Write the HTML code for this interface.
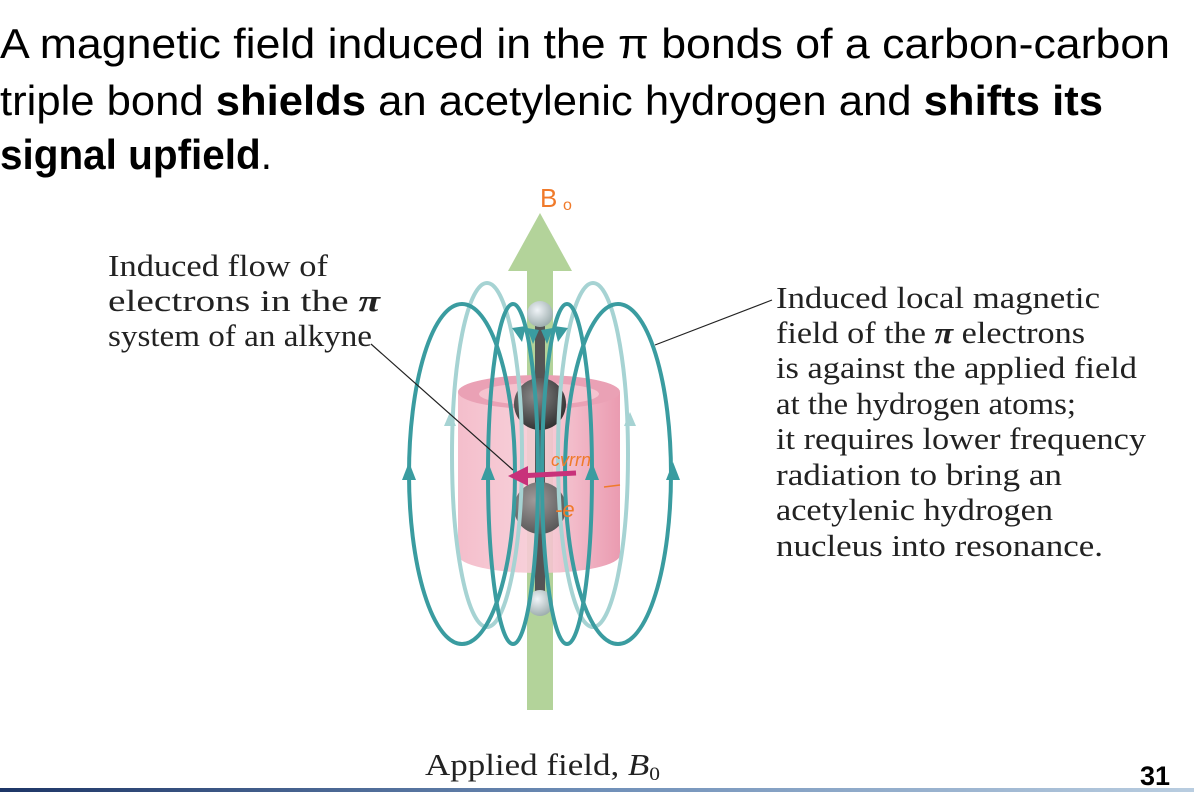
<!DOCTYPE html>
<html><head><meta charset="utf-8"><style>
html,body{margin:0;padding:0;background:#fff;width:1194px;height:792px;overflow:hidden}
svg{display:block}
.t{font-family:"Liberation Sans",sans-serif;font-size:42px;fill:#000}
.s{font-family:"Liberation Serif",serif;font-size:31px;fill:#222}
</style></head><body>
<svg width="1194" height="792" viewBox="0 0 1194 792">
<defs>
<linearGradient id="bar" x1="0" x2="1"><stop offset="0" stop-color="#1d3566"/><stop offset="0.5" stop-color="#6f8fb8"/><stop offset="1" stop-color="#b9cde0"/></linearGradient>
<linearGradient id="cyl" x1="0" x2="1"><stop offset="0" stop-color="#f3b7c6"/><stop offset="0.5" stop-color="#f7cdd7"/><stop offset="1" stop-color="#e890a8"/></linearGradient>
<radialGradient id="atom" cx="0.4" cy="0.35" r="0.7"><stop offset="0" stop-color="#8a8a8a"/><stop offset="1" stop-color="#2e2e2e"/></radialGradient>
<radialGradient id="atom2" cx="0.4" cy="0.35" r="0.7"><stop offset="0" stop-color="#a09a9a"/><stop offset="1" stop-color="#555"/></radialGradient>
<radialGradient id="hatom" cx="0.4" cy="0.35" r="0.7"><stop offset="0" stop-color="#f0f4f8"/><stop offset="1" stop-color="#9aa"/></radialGradient>
</defs>

<g>
<text class="t" x="0" y="58" textLength="1170" lengthAdjust="spacingAndGlyphs">A magnetic field induced in the π bonds of a carbon-carbon</text>
<text class="t" x="0" y="115" textLength="1103" lengthAdjust="spacingAndGlyphs">triple bond <tspan font-weight="bold">shields</tspan> an acetylenic hydrogen and <tspan font-weight="bold">shifts its</tspan></text>
<text class="t" x="0" y="169" textLength="272" lengthAdjust="spacingAndGlyphs"><tspan font-weight="bold">signal upfield</tspan>.</text>
</g>

<g fill="#b3d39a">
<polygon points="540,213 572,271 508,271"/>
<rect x="527" y="270" width="26" height="440"/>
</g>

<g>
<path d="M458,392 L458,555 A81,18 0 0 0 620,555 L620,392 Z" fill="url(#cyl)" opacity="0.9"/>
<ellipse cx="539" cy="392" rx="81" ry="17" fill="#eaa1b5"/>
<ellipse cx="539" cy="394" rx="60" ry="11" fill="#f5c3cf"/>
</g>

<g>
<rect x="535" y="315" width="10" height="300" fill="#555"/>
<circle cx="540" cy="314" r="13" fill="url(#hatom)"/>
<circle cx="540" cy="404" r="26" fill="url(#atom)"/>
<circle cx="540" cy="508" r="26" fill="url(#atom2)"/>
<circle cx="540" cy="603" r="13" fill="url(#hatom)"/>
</g>

<g fill="none" stroke-width="4">
<ellipse cx="487" cy="455" rx="35" ry="172" stroke="#a6d3d3"/>
<ellipse cx="593" cy="455" rx="35" ry="172" stroke="#a6d3d3"/>
<ellipse cx="462" cy="474" rx="53" ry="170" stroke="#3a9ca0"/>
<ellipse cx="618" cy="474" rx="53" ry="170" stroke="#3a9ca0"/>
<ellipse cx="513" cy="474" rx="25" ry="170" stroke="#3a9ca0"/>
<ellipse cx="567" cy="474" rx="25" ry="170" stroke="#3a9ca0"/>
</g>
<g fill="#3a9ca0">
<polygon points="409,462 402,480 416,480"/>
<polygon points="488,462 481,480 495,480"/>
<polygon points="592,462 585,480 599,480"/>
<polygon points="673,462 666,480 680,480"/>
<polygon points="522,342 512,328 526,326"/>
<polygon points="558,342 554,326 568,328"/>
<polygon points="533,344 527,328 539,330"/>
<polygon points="547,344 541,330 553,328"/>
<polygon points="450,412 444,426 456,426" fill="#a6d3d3"/>
<polygon points="630,412 624,426 636,426" fill="#a6d3d3"/>
</g>

<g>
<line x1="576" y1="473" x2="518" y2="476" stroke="#c8317a" stroke-width="5"/>
<polygon points="508,476 528,466 528,486" fill="#c8317a"/>
</g>

<g fill="#f07a2a" font-family="Liberation Sans, sans-serif">
<text x="540" y="207" font-size="26">B</text><text x="563" y="210" font-size="16">o</text>
<text x="551" y="466" font-size="18" font-style="italic">cvrrn</text>
<text x="555" y="517" font-size="22" font-style="italic">-e</text>
<line x1="604" y1="487" x2="620" y2="485" stroke="#f07a2a" stroke-width="1.5"/>
</g>

<g>
<text class="s" x="108" y="276" textLength="220" lengthAdjust="spacingAndGlyphs">Induced flow of</text>
<text class="s" x="108" y="311" textLength="272" lengthAdjust="spacingAndGlyphs">electrons in the <tspan font-weight="bold" font-style="italic">π</tspan></text>
<text class="s" x="108" y="346" textLength="264" lengthAdjust="spacingAndGlyphs">system of an alkyne</text>
<line x1="371" y1="344" x2="513" y2="470" stroke="#222" stroke-width="1.2"/>
</g>

<g>
<line x1="772" y1="300" x2="655" y2="345" stroke="#222" stroke-width="1.2"/>
<text class="s" x="776" y="308" textLength="324" lengthAdjust="spacingAndGlyphs">Induced local magnetic</text>
<text class="s" x="776" y="343" textLength="309" lengthAdjust="spacingAndGlyphs">field of the <tspan font-weight="bold" font-style="italic">π</tspan> electrons</text>
<text class="s" x="776" y="378" textLength="361" lengthAdjust="spacingAndGlyphs">is against the applied field</text>
<text class="s" x="776" y="414" textLength="300" lengthAdjust="spacingAndGlyphs">at the hydrogen atoms;</text>
<text class="s" x="776" y="449" textLength="370" lengthAdjust="spacingAndGlyphs">it requires lower frequency</text>
<text class="s" x="776" y="485" textLength="286" lengthAdjust="spacingAndGlyphs">radiation to bring an</text>
<text class="s" x="776" y="520" textLength="277" lengthAdjust="spacingAndGlyphs">acetylenic hydrogen</text>
<text class="s" x="776" y="556" textLength="327" lengthAdjust="spacingAndGlyphs">nucleus into resonance.</text>
</g>

<text class="s" x="425" y="775" textLength="235" lengthAdjust="spacingAndGlyphs">Applied field, <tspan font-style="italic">B</tspan><tspan font-size="19" dy="5">0</tspan></text>
<text x="1140" y="785" font-family="Liberation Sans, sans-serif" font-weight="bold" font-size="27">31</text>
<rect x="0" y="788" width="1194" height="4" fill="url(#bar)"/>
</svg>
</body></html>
